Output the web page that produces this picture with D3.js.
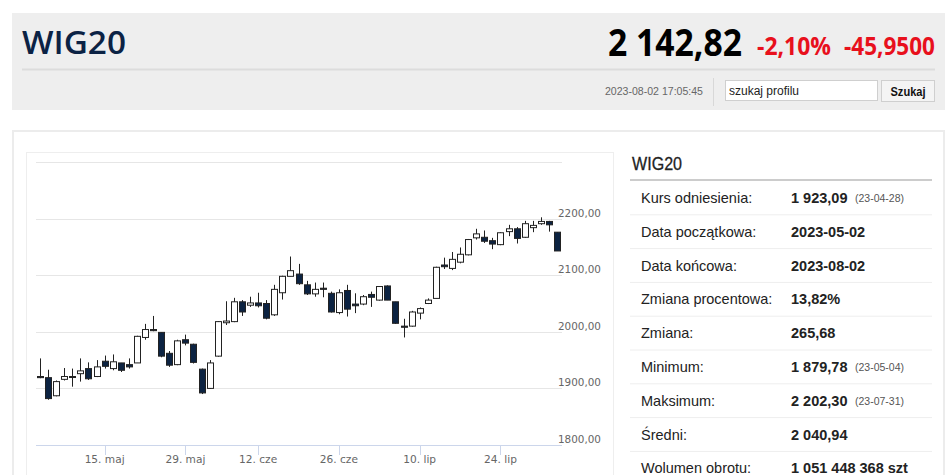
<!DOCTYPE html>
<html>
<head>
<meta charset="utf-8">
<script src="https://cdn.jsdelivr.net/npm/d3@7"></script>
<style>
  body { margin:0; background:#fff; }
  svg { display:block; }
</style>
</head>
<body>
<div id="display"></div>
<script>
// trading days shown on the chart
var days = [
  '2023-05-02','2023-05-04','2023-05-05','2023-05-08','2023-05-09','2023-05-10','2023-05-11','2023-05-12',
  '2023-05-15','2023-05-16','2023-05-17','2023-05-18','2023-05-19','2023-05-22','2023-05-23','2023-05-24',
  '2023-05-25','2023-05-26','2023-05-29','2023-05-30','2023-05-31','2023-06-01','2023-06-02','2023-06-05',
  '2023-06-06','2023-06-07','2023-06-09','2023-06-12','2023-06-13','2023-06-14','2023-06-15','2023-06-16',
  '2023-06-19','2023-06-20','2023-06-21','2023-06-22','2023-06-23','2023-06-26','2023-06-27','2023-06-28',
  '2023-06-29','2023-06-30','2023-07-03','2023-07-04','2023-07-05','2023-07-06','2023-07-07','2023-07-10',
  '2023-07-11','2023-07-12','2023-07-13','2023-07-14','2023-07-17','2023-07-18','2023-07-19','2023-07-20',
  '2023-07-21','2023-07-24','2023-07-25','2023-07-26','2023-07-27','2023-07-28','2023-07-31','2023-08-01',
  '2023-08-02'
]
var opens = [1921,1919,1887,1916,1920,1926,1935,1921,1948,1935,1945,1942,1945,1990,2004,1999,
  1962,1942,1986,1978,1934,1900,1957,2016,2018,2053,2047,2051,2050,2030,2069,2098,
  2102,2083,2067,2077,2068,2034,2073,2049,2049,2066,2056,2081,2053,2010,2010,2033,
  2050,2059,2118,2112,2123,2136,2166,2167,2161,2154,2177,2182,2167,2184,2191,2195,2176]
var highs = [1953,1933,1914,1936,1935,1953,1946,1950,1958,1960,1945,1953,1993,2014,2028,1999,
  1966,1986,1995,1979,1935,1950,2019,2054,2060,2056,2062,2069,2056,2083,2099,2133,
  2120,2090,2087,2087,2071,2075,2083,2068,2065,2071,2080,2082,2053,2023,2037,2043,
  2059,2115,2131,2141,2149,2164,2182,2179,2166,2176,2189,2185,2196,2196,2202.3,2196,2176]
var lows = [1918,1880,1886,1914,1903,1912,1915,1920,1935,1932,1929,1935,1945,1986,2001,1955,
  1938,1941,1976,1944,1890,1899,1956,2012,2017,2028,2044,2043,2022,2028,2057,2098,
  2083,2065,2062,2061,2034,2031,2027,2033,2047,2044,2055,2056,2014,1990,2009,2022,
  2049,2059,2111,2109,2121,2135,2163,2157,2146,2153,2169,2156,2166,2176,2189,2177,2143]
var closes = [1919,1882,1912,1921,1921,1931,1917,1938,1939,1947,1932,1938,1992,2004,2002,1957,
  1941,1984,1980,1946,1892,1945,2018,2019,2053,2035,2051,2046,2024,2075,2098,2108,
  2085,2067,2075,2075,2035,2069,2040,2046,2062,2061,2080,2056,2015,2008,2035,2041,
  2056,2114,2115,2128,2137,2163,2173,2160,2155,2175,2182,2165,2191,2188,2195,2189,2142.82]

var tickDays = ['2023-05-15','2023-05-29','2023-06-12','2023-06-26','2023-07-10','2023-07-24']
var tickLabels = ['15. maj','29. maj','12. cze','26. cze','10. lip','24. lip']
var gridValues = [1800,1900,2000,2100,2200,2300]
var labelValues = [1800,1900,2000,2100,2200]

var rowLabels = ['Kurs odniesienia:','Data początkowa:','Data końcowa:','Zmiana procentowa:','Zmiana:','Minimum:','Maksimum:','Średni:','Wolumen obrotu:']
var rowValues = ['1 923,09','2023-05-02','2023-08-02','13,82%','265,68','1 879,78','2 202,30','2 040,94','1 051 448 368 szt']
var rowNotes = ['(23-04-28)','','','','','(23-05-04)','(23-07-31)','','']

var W = 948, H = 475
var svg = d3.select('#display').append('svg').attr('width',W).attr('height',H)

// header box
svg.append('rect').attr('x',12).attr('y',13).attr('width',933).attr('height',97).attr('fill','#eeeeee')
svg.append('line').attr('x1',22).attr('x2',935).attr('y1',69.5).attr('y2',69.5).attr('stroke','#dcdcdc').attr('stroke-width',2)
svg.append('text').attr('x',22).attr('y',54).text('WIG20')
  .attr('font-family','Open Sans, Liberation Sans, sans-serif').attr('font-weight',600).attr('font-size',33)
  .attr('fill','#0b2244').attr('textLength',104).attr('lengthAdjust','spacingAndGlyphs')
svg.append('text').attr('x',608).attr('y',56).text('2 142,82')
  .attr('font-family','Open Sans, Liberation Sans, sans-serif').attr('font-weight',700).attr('font-size',37)
  .attr('fill','#000').attr('textLength',134).attr('lengthAdjust','spacingAndGlyphs')
svg.append('text').attr('x',757).attr('y',55).text('-2,10%')
  .attr('font-family','Open Sans, Liberation Sans, sans-serif').attr('font-weight',700).attr('font-size',25)
  .attr('fill','#e8101c').attr('textLength',74).attr('lengthAdjust','spacingAndGlyphs')
svg.append('text').attr('x',844).attr('y',55).text('-45,9500')
  .attr('font-family','Open Sans, Liberation Sans, sans-serif').attr('font-weight',700).attr('font-size',25)
  .attr('fill','#e8101c').attr('textLength',91).attr('lengthAdjust','spacingAndGlyphs')
svg.append('text').attr('x',605).attr('y',95).text('2023-08-02 17:05:45')
  .attr('font-family','Liberation Sans, sans-serif').attr('font-size',11).attr('fill','#666')
  .attr('textLength',98).attr('lengthAdjust','spacingAndGlyphs')
svg.append('line').attr('x1',713.5).attr('x2',713.5).attr('y1',78).attr('y2',106).attr('stroke','#d8d8d8')
svg.append('rect').attr('x',725.5).attr('y',80.5).attr('width',152).attr('height',20).attr('fill','#fff').attr('stroke','#cfcfcf')
svg.append('text').attr('x',729).attr('y',95).text('szukaj profilu')
  .attr('font-family','Liberation Sans, sans-serif').attr('font-size',12).attr('fill','#222')
  .attr('textLength',70).attr('lengthAdjust','spacingAndGlyphs')
svg.append('rect').attr('x',881.5).attr('y',80.5).attr('width',53).attr('height',21).attr('fill','#f4f4f4').attr('stroke','#cfcfcf')
svg.append('text').attr('x',908).attr('y',95.5).text('Szukaj').attr('text-anchor','middle')
  .attr('font-family','Liberation Sans, sans-serif').attr('font-weight',700).attr('font-size',12).attr('fill','#111')
  .attr('textLength',35).attr('lengthAdjust','spacingAndGlyphs')

// panels
svg.append('rect').attr('x',13).attr('y',131).attr('width',931).attr('height',360).attr('fill','#fff').attr('stroke','#ececec').attr('stroke-width',2)
svg.append('rect').attr('x',26.5).attr('y',152.5).attr('width',587).attr('height',340).attr('fill','#fff').attr('stroke','#eeeeee')

// chart
var x = d3.scalePoint().domain(days).range([40,557])
var y = d3.scaleLinear().domain([1800,2300]).range([445,162])
var g = svg.append('g')

g.selectAll('line.grid').data(gridValues).enter().append('line').attr('class','grid')
  .attr('x1',36).attr('x2',562)
  .attr('y1',function(d){ return Math.round(y(d)) + 0.5 })
  .attr('y2',function(d){ return Math.round(y(d)) + 0.5 })
  .attr('stroke',function(d){ return d == 1800 ? '#ccd6eb' : '#e6e6e6' })

g.selectAll('text.ylab').data(labelValues).enter().append('text').attr('class','ylab')
  .attr('x',558).attr('y',function(d){ return y(d) - 2 })
  .text(function(d){ return d3.format('.2f')(d).replace('.',',') })
  .attr('font-family','DejaVu Sans, sans-serif').attr('font-size',10.4).attr('fill','#666')

g.selectAll('line.tick').data(tickDays).enter().append('line').attr('class','tick')
  .attr('x1',function(d){ return Math.round(x(d)) + 0.5 }).attr('x2',function(d){ return Math.round(x(d)) + 0.5 })
  .attr('y1',445).attr('y2',455).attr('stroke','#ccd6eb')
g.selectAll('text.xlab').data(tickDays).enter().append('text').attr('class','xlab')
  .attr('x',function(d){ return x(d) }).attr('y',463).attr('text-anchor','middle')
  .text(function(d,i){ return tickLabels[i] })
  .attr('font-family','DejaVu Sans, sans-serif').attr('font-size',10.6).attr('fill','#666')

var candles = days.map(function(d,i){
  return { day:d, open:opens[i], high:highs[i], low:lows[i], close:closes[i] }
})
var cw = 6
var c = g.selectAll('g.candle').data(candles).enter().append('g').attr('class','candle')
c.append('line')
  .attr('x1',function(d){ return Math.round(x(d.day)) + 0.5 })
  .attr('x2',function(d){ return Math.round(x(d.day)) + 0.5 })
  .attr('y1',function(d){ return y(d.high) }).attr('y2',function(d){ return y(d.low) })
  .attr('stroke','#222').attr('stroke-width',1)
c.append('rect')
  .attr('x',function(d){ return Math.round(x(d.day)) - cw/2 + 0.5 })
  .attr('y',function(d){ return y(Math.max(d.open,d.close)) })
  .attr('width',cw)
  .attr('height',function(d){ return Math.max(1, Math.abs(y(d.open) - y(d.close))) })
  .attr('fill',function(d){ return d.close < d.open ? '#0c2342' : '#fff' })
  .attr('stroke','#222').attr('stroke-width',1)

// side table
svg.append('text').attr('x',632).attr('y',170).text('WIG20')
  .attr('font-family','Liberation Sans, sans-serif').attr('font-size',18).attr('fill','#222')
  .attr('stroke','#222').attr('stroke-width',0.3)
  .attr('textLength',50).attr('lengthAdjust','spacingAndGlyphs')
svg.append('line').attr('x1',630).attr('x2',932).attr('y1',180).attr('y2',180).attr('stroke','#cccccc').attr('stroke-width',2)

var rowH = 33.8, row0 = 181
var rows = svg.selectAll('g.row').data(rowLabels).enter().append('g').attr('class','row')
  .attr('transform',function(d,i){ return 'translate(0,' + (row0 + i*rowH) + ')' })
rows.append('line').attr('x1',630).attr('x2',932).attr('y1',rowH).attr('y2',rowH)
  .attr('stroke',function(d,i){ return i < rowLabels.length - 1 ? '#eeeeee' : 'none' })
rows.append('text').attr('x',641).attr('y',22).text(function(d){ return d })
  .attr('font-family','Liberation Sans, sans-serif').attr('font-size',14.5).attr('fill','#222')
rows.append('text').attr('x',791).attr('y',22).text(function(d,i){ return rowValues[i] })
  .attr('font-family','Liberation Sans, sans-serif').attr('font-weight',700).attr('font-size',14.5).attr('fill','#222')
rows.append('text').attr('x',855).attr('y',21).text(function(d,i){ return rowNotes[i] })
  .attr('font-family','Liberation Sans, sans-serif').attr('font-size',10.5).attr('fill','#555')
</script>
</body>
</html>
